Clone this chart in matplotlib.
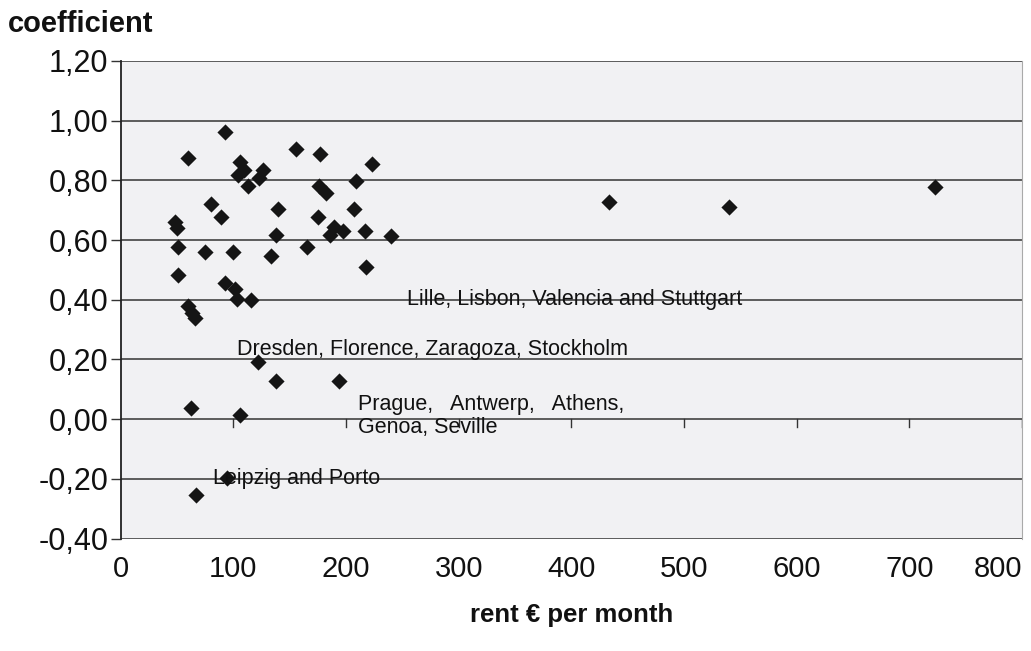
import matplotlib.pyplot as plt
import numpy as np

plt.rcParams['font.family'] = ['Liberation Sans', 'DejaVu Sans']

# rent (EUR per month) and coefficient for each city
rent = [60, 92.5, 106, 109, 104, 113, 126.5, 123, 155.5, 177, 223, 208.5,
        176, 182, 80, 89, 140, 175, 207, 48, 50, 51, 75, 100, 138, 133,
        165, 189, 186, 197, 217, 240, 218, 51, 92.5, 101, 103, 116, 60, 63,
        66, 122, 137.5, 194, 62, 106, 94, 67, 433, 540, 723]
coef = [0.876, 0.961, 0.861, 0.835, 0.818, 0.781, 0.835, 0.807, 0.905, 0.888,
        0.854, 0.798, 0.781, 0.757, 0.72, 0.676, 0.703, 0.676, 0.703, 0.662,
        0.64, 0.578, 0.561, 0.561, 0.617, 0.548, 0.576, 0.645, 0.617, 0.631,
        0.631, 0.612, 0.511, 0.483, 0.457, 0.435, 0.403, 0.4, 0.379, 0.357,
        0.338, 0.193, 0.128, 0.128, 0.037, 0.014, -0.198, -0.254, 0.728,
        0.712, 0.777]

x_ticks = [0, 100, 200, 300, 400, 500, 600, 700, 800]
y_ticks = [-0.4, -0.2, 0.0, 0.2, 0.4, 0.6, 0.8, 1.0, 1.2]
y_labels = [f"{v:.2f}".replace(".", ",") for v in y_ticks]

fig = plt.figure(figsize=(10.31, 6.51), dpi=100)
ax = fig.add_axes([0.1171, 0.1728, 0.9913 - 0.1171, 0.9063 - 0.1728])
ax.set_facecolor('#f1f1f3')

ax.set_xlim(0, 800)
ax.set_ylim(-0.4, 1.2)

# horizontal grid
for y in y_ticks:
    ax.axhline(y, color='#333333', lw=1.1, zorder=1)

ax.scatter(rent, coef, marker='D', s=68, color='#151515', zorder=3,
           linewidths=0)

# small tick marks hanging from the zero line
for x in x_ticks[1:]:
    ax.plot([x, x], [0, -0.027], color='#333333', lw=1, zorder=2)

for side in ['top', 'bottom']:
    ax.spines[side].set_visible(False)
ax.spines['left'].set_color('#222222')
ax.spines['left'].set_linewidth(1.3)
ax.spines['right'].set_color('#aaaaaa')
ax.spines['right'].set_linewidth(0.8)

ax.set_yticks(y_ticks)
ax.set_yticklabels(y_labels, fontsize=22, color='#111111')
ax.tick_params(axis='y', length=7, width=1, pad=2, color='#333333')

ax.set_xticks(x_ticks)
ax.set_xticklabels([str(v) for v in x_ticks], fontsize=21, color='#111111')
ax.tick_params(axis='x', length=0, pad=12)
ax.get_xticklabels()[-1].set_ha('right')

text_kw = dict(fontsize=15.5, color='#111111', va='center', zorder=4)
ax.text(254, 0.40, "Lille, Lisbon, Valencia and Stuttgart", **text_kw)
ax.text(103, 0.232, "Dresden, Florence, Zaragoza, Stockholm", **text_kw)
ax.text(210.5, 0.048, "Prague,   Antwerp,   Athens,", **text_kw)
ax.text(210.5, -0.029, "Genoa, Seville", **text_kw)
ax.text(82, -0.2, "Leipzig and Porto", **text_kw)

fig.text(8 / 1031, 1 - 32 / 651, "coefficient", fontsize=21,
         fontweight='bold', color='#111111', va='baseline')
ax.set_xlabel("rent € per month", fontsize=18.5, fontweight='bold',
              color='#111111', labelpad=14)

fig.savefig("out.png", dpi=100, facecolor='white')
